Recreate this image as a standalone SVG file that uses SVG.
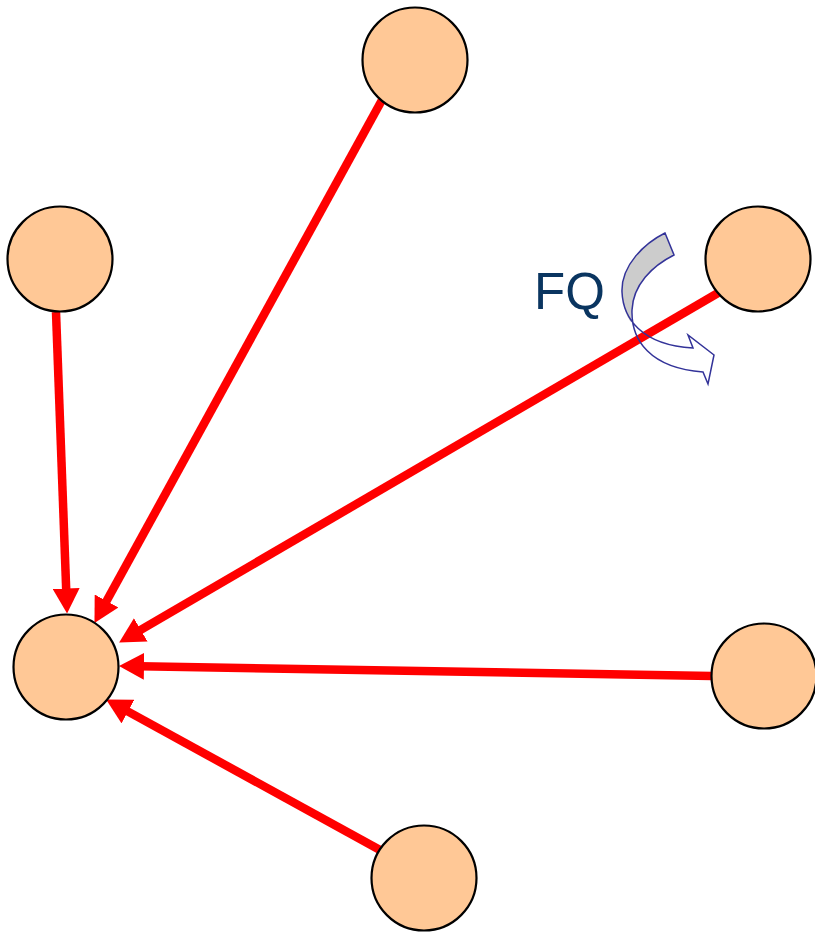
<svg xmlns="http://www.w3.org/2000/svg" width="815" height="932" viewBox="0 0 815 932">
<style>
.node{fill:#FFC896;stroke:#000;stroke-width:2.2}
.edge{stroke:#FF0000;stroke-width:8.5;fill:none;marker-end:url(#ah)}
.lbl{font-family:"Liberation Sans",Arial,sans-serif;font-size:51px;fill:#0A3560}
</style>
<defs>
<marker id="ah" markerUnits="userSpaceOnUse" viewBox="0 0 25 27" refX="4" refY="13.5" markerWidth="25" markerHeight="27" orient="auto">
<path d="M0,0 L25,13.5 L0,27 Z" fill="#FF0000"/>
</marker>
</defs>
<rect width="815" height="932" fill="#fff"/>
<g id="connectors">
<line class="edge" x1="56" y1="312" x2="66.3" y2="592.5"/>
<line class="edge" x1="382" y1="100" x2="104.6" y2="604.5"/>
<line class="edge" x1="718" y1="293" x2="137.3" y2="631.9"/>
<line class="edge" x1="712" y1="676" x2="140" y2="666.3"/>
<line class="edge" x1="380" y1="850" x2="124.5" y2="709.6"/>
</g>
<g id="fq">
<path d="M665,233 C645,243 621,265 622,292 Q624,314 631,322 L632,310 C633,285 652,266 674,255 Z" fill="#CCCCCC"/>
<path d="M665,233 C645,243 621,265 622,292 C623,317 640,345 693,348 L688,335 L714,355 L708,384 L703,372 C650,368 631,340 632,310 C633,285 652,266 674,255 Z" fill="none" stroke="#333399" stroke-width="1.5" stroke-linejoin="miter"/>
<text class="lbl" x="534" y="309">FQ</text>
</g>
<g id="n_target"><circle class="node" cx="66" cy="667" r="52.5"/></g>
<g id="n_a"><circle class="node" cx="60" cy="259" r="52.5"/></g>
<g id="n_b"><circle class="node" cx="415" cy="60" r="52.5"/></g>
<g id="n_c"><circle class="node" cx="758" cy="259" r="52.5"/></g>
<g id="n_d"><circle class="node" cx="764" cy="676" r="52.5"/></g>
<g id="n_e"><circle class="node" cx="424" cy="878" r="52.5"/></g>
</svg>
